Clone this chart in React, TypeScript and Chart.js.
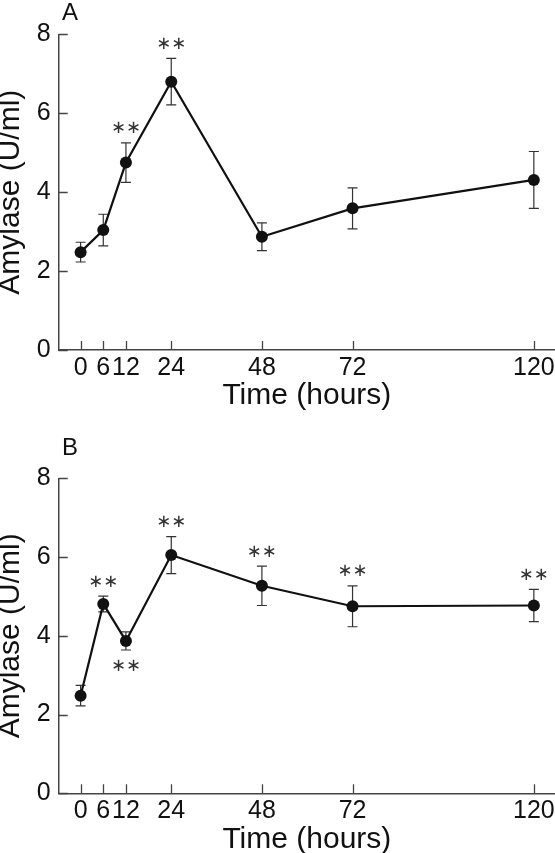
import React, { useEffect, useRef } from "react";
import { Chart, registerables } from "chart.js";

Chart.register(...registerables);

// ---- data ----
const hours = [0, 6, 12, 24, 48, 72, 120];
const xTickValues = [0, 6, 12, 24, 48, 72, 120];
const yTickStep = 2;
const amylaseA = [2.48, 3.04, 4.75, 6.8, 2.87, 3.59, 4.31];
const semA = [0.25, 0.4, 0.5, 0.59, 0.35, 0.52, 0.72];
const starsA = ["", "", "above", "above", "", "", ""];
const amylaseB = [2.48, 4.81, 3.87, 6.05, 5.27, 4.75, 4.77];
const semB = [0.26, 0.2, 0.23, 0.47, 0.5, 0.52, 0.41];
const starsB = ["", "above", "below", "above", "above", "above", "above"];
const xTitle = "Time (hours)";
const yTitle = "Amylase (U/ml)";
const starGlyph = "\u2217";

const FAMILY = '"Liberation Sans", Arial, sans-serif';
const INK = "#111";
const AXIS = "#444";

type PanelProps = {
  letter: string;
  values: number[];
  errors: number[];
  stars: string[];
  top: number;
  height: number;
  plotTop: number;
  plotBottom: number;
  letterY: number;
};

function Panel({ letter, values, errors, stars, top, height, plotTop, plotBottom, letterY }: PanelProps) {
  const ref = useRef<HTMLCanvasElement>(null);

  useEffect(() => {
    const canvas = ref.current;
    if (!canvas) return;
    const AXIS_W = 58.7;
    const X_H = 61.2;

    const decor = {
      id: "decor",
      beforeDatasetsDraw(chart: any) {
        const ctx = chart.ctx;
        const xs = chart.scales.x;
        const ys = chart.scales.y;
        ctx.save();
        ctx.strokeStyle = "#333";
        ctx.lineWidth = 1.2;
        values.forEach((v, i) => {
          const px = xs.getPixelForValue(hours[i]);
          const hi = ys.getPixelForValue(v + errors[i]);
          const lo = ys.getPixelForValue(v - errors[i]);
          ctx.beginPath();
          ctx.moveTo(px, hi);
          ctx.lineTo(px, lo);
          ctx.moveTo(px - 5, hi);
          ctx.lineTo(px + 5, hi);
          ctx.moveTo(px - 5, lo);
          ctx.lineTo(px + 5, lo);
          ctx.stroke();
        });
        ctx.restore();
      },
      afterDraw(chart: any) {
        const ctx = chart.ctx;
        const xs = chart.scales.x;
        const ys = chart.scales.y;
        const area = chart.chartArea;
        ctx.save();
        // inward tick marks
        ctx.strokeStyle = AXIS;
        ctx.lineWidth = 1.3;
        ctx.beginPath();
        xs.ticks.forEach((t: any) => {
          const px = Math.round(xs.getPixelForValue(t.value)) + 0.5;
          ctx.moveTo(px, area.bottom);
          ctx.lineTo(px, area.bottom - 9);
        });
        ys.ticks.forEach((t: any) => {
          const py = Math.round(ys.getPixelForValue(t.value)) + 0.5;
          ctx.moveTo(area.left, py);
          ctx.lineTo(area.left + 9, py);
        });
        ctx.stroke();
        // significance stars
        ctx.fillStyle = "#333";
        ctx.font = '18px "DejaVu Sans"';
        ctx.textAlign = "center";
        ctx.textBaseline = "middle";
        stars.forEach((s, i) => {
          if (!s) return;
          const px = xs.getPixelForValue(hours[i]);
          const y =
            s === "above"
              ? ys.getPixelForValue(values[i] + errors[i]) - 14
              : ys.getPixelForValue(values[i] - errors[i]) + 16.5;
          ctx.fillText(starGlyph, px - 7.5, y);
          ctx.fillText(starGlyph, px + 7.5, y);
        });
        // panel letter
        ctx.fillStyle = INK;
        ctx.font = "24px " + FAMILY;
        ctx.textAlign = "left";
        ctx.textBaseline = "alphabetic";
        ctx.fillText(letter, 62, letterY);
        ctx.restore();
      },
    };

    const chart = new Chart(canvas, {
      type: "line",
      data: {
        datasets: [
          {
            data: hours.map((h, i) => ({ x: h, y: values[i] })),
            borderColor: INK,
            borderWidth: 2.2,
            pointRadius: 6,
            pointHoverRadius: 6,
            pointBackgroundColor: INK,
            pointBorderWidth: 0,
            tension: 0,
            fill: false,
          },
        ],
      },
      options: {
        animation: false,
        responsive: false,
        devicePixelRatio: 1,
        events: [],
        layout: {
          autoPadding: false,
          padding: { top: plotTop, bottom: height - plotBottom - X_H, left: 0, right: 0 },
        },
        plugins: { legend: { display: false }, tooltip: { enabled: false } },
        scales: {
          x: {
            type: "linear",
            min: -5.8,
            max: 125.6,
            afterBuildTicks: (s: any) => {
              s.ticks = xTickValues.map((v) => ({ value: v }));
            },
            afterFit: (s: any) => {
              s.height = X_H;
              s.paddingLeft = 0;
              s.paddingRight = 0;
            },
            grid: { display: false, drawTicks: false },
            border: { display: true, color: AXIS, width: 1.5 },
            ticks: {
              padding: 3,
              autoSkip: false,
              maxRotation: 0,
              color: INK,
              font: { family: FAMILY, size: 25 },
            },
            title: {
              display: true,
              text: xTitle,
              color: INK,
              padding: 0,
              font: { family: FAMILY, size: 30, lineHeight: 1 },
            },
          },
          y: {
            type: "linear",
            min: 0,
            max: 8,
            afterFit: (s: any) => {
              s.width = AXIS_W;
              s.paddingTop = 0;
              s.paddingBottom = 0;
            },
            grid: { display: false, drawTicks: false },
            border: { display: true, color: AXIS, width: 1.5 },
            ticks: {
              stepSize: yTickStep,
              padding: 8,
              color: INK,
              font: { family: FAMILY, size: 25 },
            },
            title: {
              display: true,
              text: yTitle,
              color: INK,
              padding: 0,
              font: { family: FAMILY, size: 30, lineHeight: 0.72 },
            },
          },
        },
      } as any,
      plugins: [decor],
    });
    return () => chart.destroy();
  }, []);

  return (
    <canvas
      ref={ref}
      width={555}
      height={height}
      style={{ position: "absolute", left: 0, top, width: 555, height, display: "block" }}
    />
  );
}

export default function App() {
  return (
    <div
      style={{
        position: "fixed",
        left: 0,
        top: 0,
        width: 555,
        height: 853,
        overflow: "hidden",
        background: "#fff",
      }}
    >
      <Panel
        letter="A"
        values={amylaseA}
        errors={semA}
        stars={starsA}
        top={0}
        height={425}
        plotTop={34.3}
        plotBottom={350}
        letterY={20}
      />
      <Panel
        letter="B"
        values={amylaseB}
        errors={semB}
        stars={starsB}
        top={425}
        height={440}
        plotTop={53.3}
        plotBottom={368.3}
        letterY={30}
      />
    </div>
  );
}
